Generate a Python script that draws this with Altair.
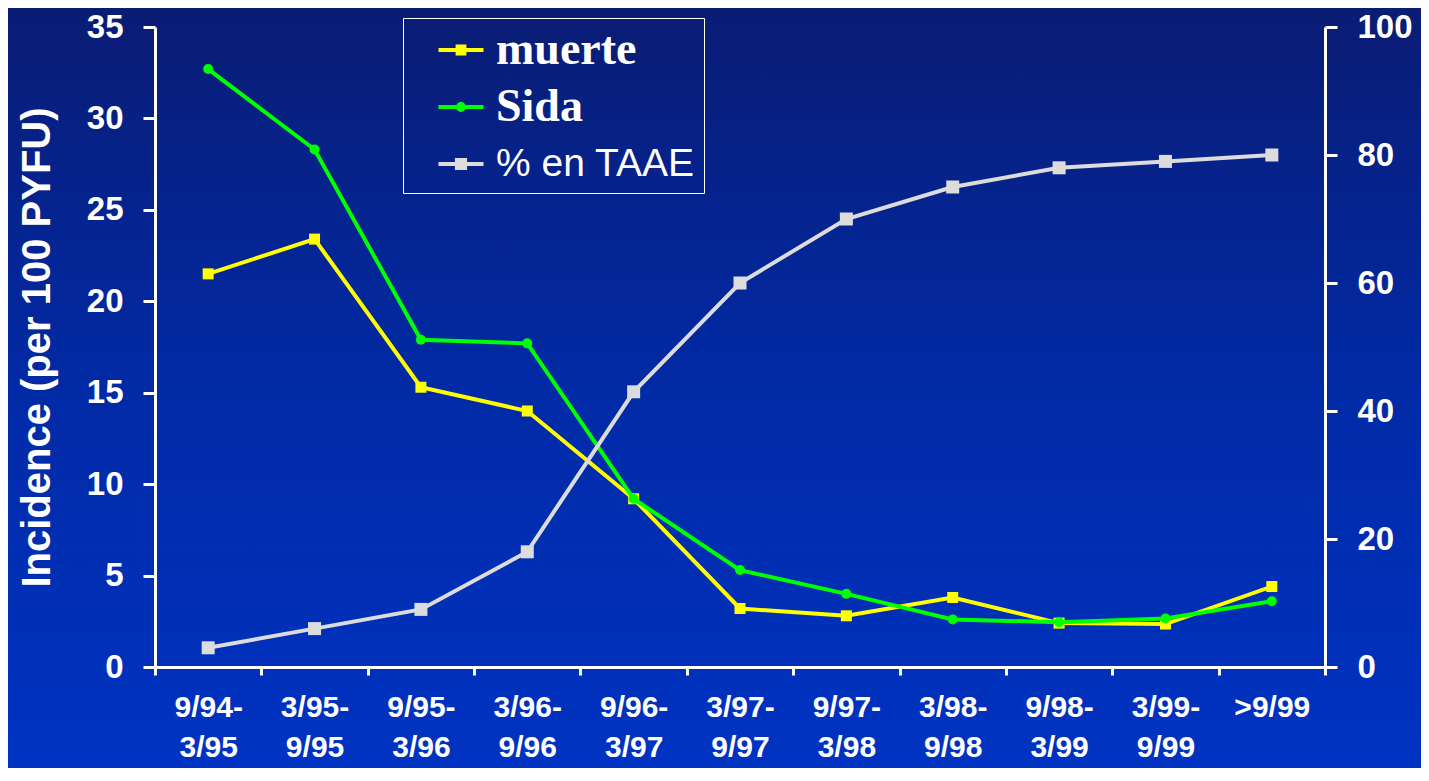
import altair as alt
import pandas as pd

# ---- data ----
periodos = ["9/94-\n3/95", "3/95-\n9/95", "9/95-\n3/96", "3/96-\n9/96", "9/96-\n3/97",
            "3/97-\n9/97", "9/97-\n3/98", "3/98-\n9/98", "9/98-\n3/99", "3/99-\n9/99", ">9/99"]
muerte = [21.5, 23.4, 15.3, 14.0, 9.2, 3.2, 2.8, 3.8, 2.4, 2.35, 4.4]
sida = [32.7, 28.3, 17.9, 17.7, 9.2, 5.3, 4.0, 2.6, 2.45, 2.65, 3.6]
taae = [3, 6, 9, 18, 43, 60, 70, 75, 78, 79, 80]

series = ["muerte", "Sida", "% en TAAE"]
series_colors = ["#ffff00", "#00ff00", "#dcdcdc"]

df = pd.DataFrame({"periodo": periodos, "muerte": muerte, "sida": sida, "taae": taae})

W, H = 1170, 640
PAD = {"left": 147, "top": 19, "right": 96, "bottom": 101}

# legend symbols: a line segment with the series marker in the middle
sym_square = "M-1,-0.09H1V0.09H-1Z M-0.24,-0.24H0.24V0.24H-0.24Z"
sym_circle = "M-1,-0.09H1V0.09H-1Z M0.22,0A0.22,0.22,0,1,1,-0.22,0A0.22,0.22,0,1,1,0.22,0Z"
sym_gsquare = "M-1,-0.09H1V0.09H-1Z M-0.27,-0.27H0.27V0.27H-0.27Z"

x_enc = alt.X(
    "periodo:N", sort=periodos, title=None,
    scale=alt.Scale(type="band", paddingInner=0, paddingOuter=0),
    axis=alt.Axis(labelAngle=0, tickBand="extent", tickSize=8, labelPadding=17,
                  labelFontSize=30, labelLineHeight=40, zindex=1,
                  labelExpr="split(datum.label, '\\n')"),
)

left_axis = alt.Axis(values=[0, 5, 10, 15, 20, 25, 30, 35], tickSize=12, labelPadding=20,
                     labelFontSize=33, title="Incidence (per 100 PYFU)", titleFontSize=40,
                     titleFont="Liberation Sans", titleFontWeight="bold", titleColor="white",
                     titleX=-118, titleY=H / 2, titleBaseline="middle", zindex=1)
left_scale = alt.Scale(domain=[0, 35], nice=False)

legend = alt.Legend(
    title=None,
    orient="none", legendX=248, legendY=-9,
    strokeColor="white", padding=9, symbolOffset=26, labelOffset=12, rowPadding=11,
    symbolSize=2025, symbolStrokeWidth=0, labelColor="white", labelLimit=500,
    labelFont=alt.ExprRef(expr="datum.label == '% en TAAE' ? 'Liberation Sans' : 'Liberation Serif'"),
    labelFontSize=alt.ExprRef(expr="datum.label == '% en TAAE' ? 39 : 46"),
    labelFontWeight=alt.ExprRef(expr="datum.label == '% en TAAE' ? 'normal' : 'bold'"),
)

legend_layer = alt.Chart(alt.Data(values=[{"serie": s} for s in series])).mark_point(
    filled=True, size=2025, opacity=1
).encode(
    color=alt.Color("serie:N", scale=alt.Scale(domain=series, range=series_colors), legend=legend),
    shape=alt.Shape("serie:N", scale=alt.Scale(domain=series, range=[sym_square, sym_circle, sym_gsquare]),
                    legend=legend),
)

bg = alt.Chart(alt.Data(values=[{}])).mark_rect(
    fill=alt.LinearGradient(gradient="linear", x1=0, x2=0, y1=0, y2=1,
                            stops=[alt.GradientStop(color="#0a1c74", offset=0),
                                   alt.GradientStop(color="#012aa6", offset=0.5),
                                   alt.GradientStop(color="#0033c2", offset=1)])
).encode(
    x=alt.value(-PAD["left"]), x2=alt.value(W + PAD["right"]),
    y=alt.value(-PAD["top"]), y2=alt.value(H + PAD["bottom"]),
)

base = alt.Chart(df)

m_line = base.mark_line(color="#ffff00", strokeWidth=4).encode(
    x=x_enc, y=alt.Y("muerte:Q", scale=left_scale, axis=left_axis))
m_pts = base.mark_point(shape="square", filled=True, size=121, opacity=1, color="#ffff00").encode(
    x=x_enc, y=alt.Y("muerte:Q", scale=left_scale, axis=left_axis))
s_line = base.mark_line(color="#00ff00", strokeWidth=4).encode(
    x=x_enc, y=alt.Y("sida:Q", scale=left_scale, axis=left_axis))
s_pts = base.mark_point(shape="circle", filled=True, size=100, opacity=1, color="#00ff00").encode(
    x=x_enc, y=alt.Y("sida:Q", scale=left_scale, axis=left_axis))

right_axis = alt.Axis(values=[0, 20, 40, 60, 80, 100], tickSize=12, labelPadding=20,
                      labelFontSize=33, title=None, orient="right", zindex=1)
right_scale = alt.Scale(domain=[0, 100], nice=False)
t_line = base.mark_line(color="#dcdcdc", strokeWidth=4).encode(
    x=x_enc, y=alt.Y("taae:Q", scale=right_scale, axis=right_axis))
t_pts = base.mark_point(shape="square", filled=True, size=169, opacity=1, color="#dcdcdc").encode(
    x=x_enc, y=alt.Y("taae:Q", scale=right_scale, axis=right_axis))

left = alt.layer(legend_layer, bg, m_line, m_pts, s_line, s_pts)
right = alt.layer(t_line, t_pts)

chart = alt.layer(left, right).resolve_scale(y="independent").properties(
    width=W, height=H,
    autosize=alt.AutoSizeParams(type="none"),
    padding=PAD,
    background="#0033c2",
).configure_view(stroke="transparent").configure_axis(
    zindex=1, grid=False, domainColor="white", domainWidth=3, tickColor="white", tickWidth=3,
    labelColor="white", labelFont="Liberation Sans", labelFontWeight="bold",
)

chart.save("out.html", embed_options={"renderer": "svg", "actions": False})
